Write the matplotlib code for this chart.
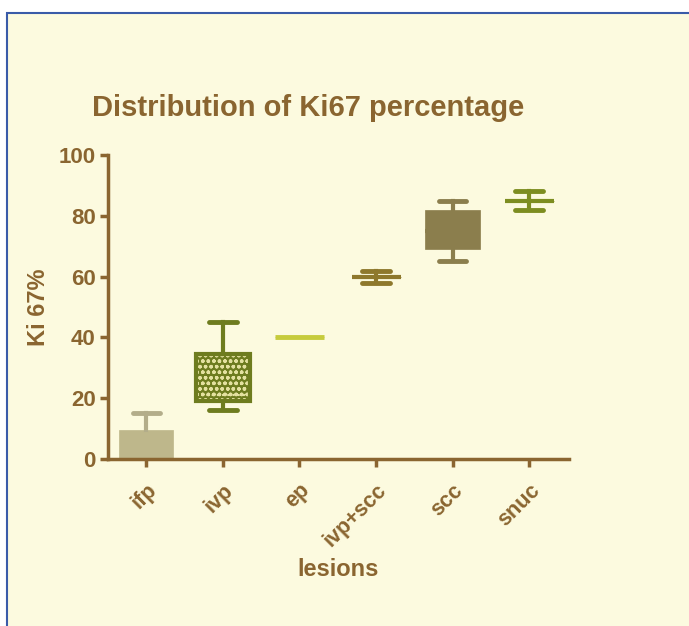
import matplotlib
matplotlib.use("Agg")
import matplotlib.pyplot as plt
import matplotlib.patches as mpatches
from matplotlib.patches import Rectangle

plt.rcParams['font.family'] = ['Liberation Sans', 'DejaVu Sans']

categories = ["ifp", "ivp", "ep", "ivp+scc", "scc", "snuc"]
whislo = [0, 16, 40, 58, 65, 82]
q1 = [0, 19, 40, 60, 69, 85]
med = [0, 21, 40, 60, 75, 85]
q3 = [9.5, 34.5, 40, 60, 82, 85]
whishi = [15, 45, 40, 62, 85, 88]
yticks = [0, 20, 40, 60, 80, 100]

box_colors = ["#BEB78B", "#6E7C1F", "#C6CB3C", "#8E782C", "#8B7E4D", "#7D8D20"]
line_colors = ["#B3AD8A", "#6E7C1F", "#C6CB3C", "#8E782C", "#8B7E4D", "#7D8D20"]
widths = [0.70, 0.70, 0.63, 0.64, 0.72, 0.64]

BROWN = "#8A6530"
BG = "#FCFADF"

fig = plt.figure(figsize=(6.89, 6.26), dpi=100)
fig.patch.set_facecolor("white")
fig.patches.append(Rectangle((7/689, -0.01), 1.0, 1.01 - 13/626, transform=fig.transFigure,
                             facecolor=BG, edgecolor="#3A5BA8", linewidth=1.5, zorder=-10))

ax = fig.add_axes([108/689, 1 - 459/626, (569 - 108)/689, (459 - 155)/626])
ax.set_facecolor("none")

stats = []
for i, c in enumerate(categories):
    stats.append(dict(label=c, whislo=whislo[i], q1=q1[i], med=med[i], q3=q3[i],
                      whishi=whishi[i], fliers=[]))

pos = list(range(len(categories)))
res = ax.bxp(stats, positions=pos, widths=widths, patch_artist=True, showfliers=False,
             capwidths=[0.36] * len(categories), manage_ticks=False)

for i in range(len(categories)):
    b = res['boxes'][i]
    b.set_facecolor(box_colors[i])
    b.set_edgecolor(box_colors[i])
    b.set_linewidth(0.5)
    res['medians'][i].set_color(box_colors[i])
    res['medians'][i].set_linewidth(3)
    for w in res['whiskers'][2*i:2*i+2]:
        w.set_color(line_colors[i]); w.set_linewidth(3)
    for cp in res['caps'][2*i:2*i+2]:
        cp.set_color(line_colors[i]); cp.set_linewidth(3.5)
        cp.set_solid_capstyle('round')

# ifp: lower whisker/cap at zero are hidden behind the axis
res['whiskers'][0].set_visible(False)
res['caps'][0].set_visible(False)
res['medians'][0].set_visible(False)

# ivp: dotted pattern fill
ivp_box = res['boxes'][1]
ivp_box.set_hatch('ooo')
ivp_box.set_edgecolor("#E4E1A0")
ivp_box.set_linewidth(0)
outline = mpatches.PathPatch(ivp_box.get_path(), facecolor='none', edgecolor=box_colors[1],
                             linewidth=3, zorder=ivp_box.get_zorder() + 0.1)
ax.add_patch(outline)
res['medians'][1].set_color("#E4E1A0")
res['medians'][1].set_linewidth(1.5)
res['medians'][1].set_linestyle((0, (1, 1.5)))

# ep: single line at 40
res['medians'][2].set_linewidth(3.5)
for cp in res['caps'][4:6]:
    cp.set_visible(False)

ax.set_xlim(-0.5, 5.52)
ax.set_ylim(0, 100)
ax.set_yticks(yticks)
ax.set_yticklabels([str(v) for v in yticks])
ax.set_xticks(pos)
ax.set_xticklabels(categories, rotation=45, ha='right', va='top', rotation_mode='anchor')

for s in ['top', 'right']:
    ax.spines[s].set_visible(False)
for s in ['left', 'bottom']:
    ax.spines[s].set_color(BROWN)
    ax.spines[s].set_linewidth(2.5)
ax.tick_params(axis='both', colors=BROWN, width=2.5, length=6)
ax.tick_params(axis='y', labelsize=16, pad=3)
ax.tick_params(axis='x', labelsize=15.5, pad=9)
for lab in ax.get_xticklabels() + ax.get_yticklabels():
    lab.set_fontweight('bold')
    lab.set_color(BROWN)

ax.set_ylabel("Ki 67%", fontsize=17, fontweight='bold', color=BROWN, labelpad=6)
ax.set_xlabel("lesions", fontsize=17, fontweight='bold', color=BROWN, labelpad=5)
fig.text(308/689, 1 - 108/626, "Distribution of Ki67 percentage", fontsize=21,
         fontweight='bold', color=BROWN, ha='center', va='center')

fig.savefig("out.png", dpi=100, facecolor=fig.get_facecolor())
